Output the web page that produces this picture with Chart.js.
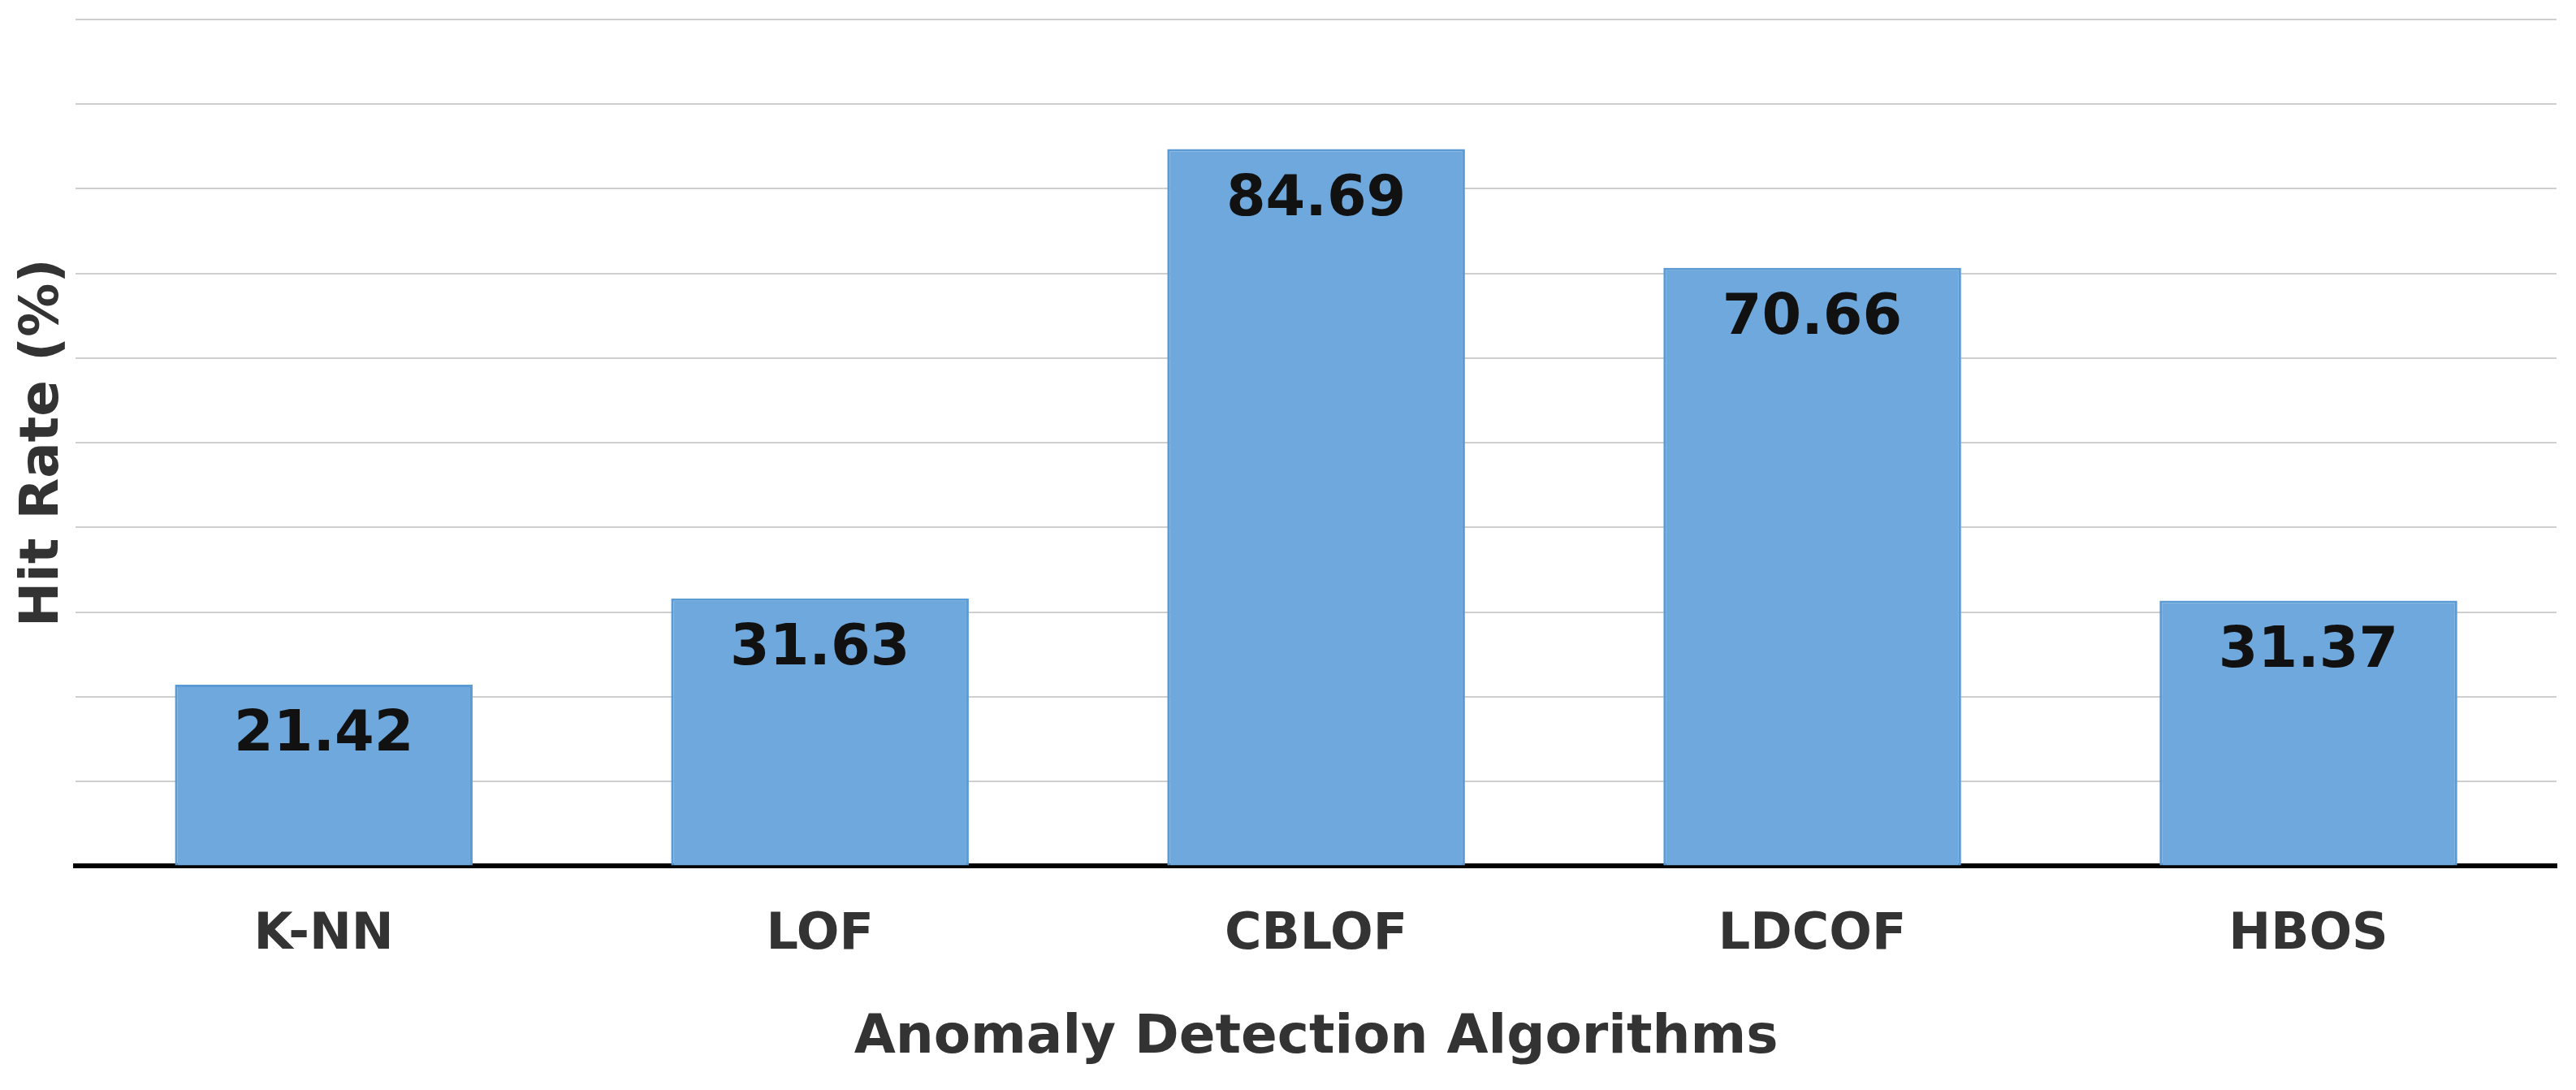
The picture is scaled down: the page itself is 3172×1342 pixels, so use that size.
<!DOCTYPE html>
<html><head><meta charset="utf-8">
<script src="https://cdn.jsdelivr.net/npm/chart.js@4"></script>
<style>html,body{margin:0;padding:0;background:#fff}#w{width:3172px;height:1342px}</style>
</head><body><div id="w"><canvas id="c"></canvas></div>
<script>
const categories = ["K-NN","LOF","CBLOF","LDCOF","HBOS"];
const hitRate = [21.42,31.63,84.69,70.66,31.37];
const FONT = "'DejaVu Sans', Verdana, sans-serif";
const labelPlugin = {
  id:'lbl',
  afterDatasetsDraw(chart){
    const ctx=chart.ctx, meta=chart.getDatasetMeta(0);
    ctx.save();
    ctx.font="bold 70px "+FONT; ctx.fillStyle="#111"; ctx.textAlign="center"; ctx.textBaseline="top";
    meta.data.forEach((b,i)=>{ ctx.fillText(hitRate[i].toFixed(2), b.x, b.y+28); });
    ctx.restore();
  }
};
new Chart(document.getElementById('c'),{
  type:'bar',
  data:{labels:categories,datasets:[{data:hitRate,backgroundColor:'#6fa8dc',borderColor:'#5b9bd5',borderWidth:3,categoryPercentage:0.6,barPercentage:1}]},
  options:{
    responsive:true,maintainAspectRatio:false,animation:false,
    layout:{padding:{top:24,right:24,left:10,bottom:20}},
    plugins:{legend:{display:false},tooltip:{enabled:false}},
    scales:{
      x:{grid:{display:false},border:{color:'#000',width:6},
        ticks:{color:'#333',font:{family:FONT,size:62,weight:'bold'},padding:40},
        title:{display:true,text:'Anomaly Detection Algorithms',color:'#333',font:{family:FONT,size:66,weight:'bold'},padding:{top:10}}},
      y:{min:0,max:100,ticks:{stepSize:10,display:false},grid:{color:'#cfcfcf',lineWidth:2,drawTicks:false},border:{display:false},
        title:{display:true,text:'Hit Rate (%)',color:'#333',font:{family:FONT,size:66,weight:'bold'},padding:{bottom:0}}}
    }
  },
  plugins:[labelPlugin]
});
</script></body></html>
